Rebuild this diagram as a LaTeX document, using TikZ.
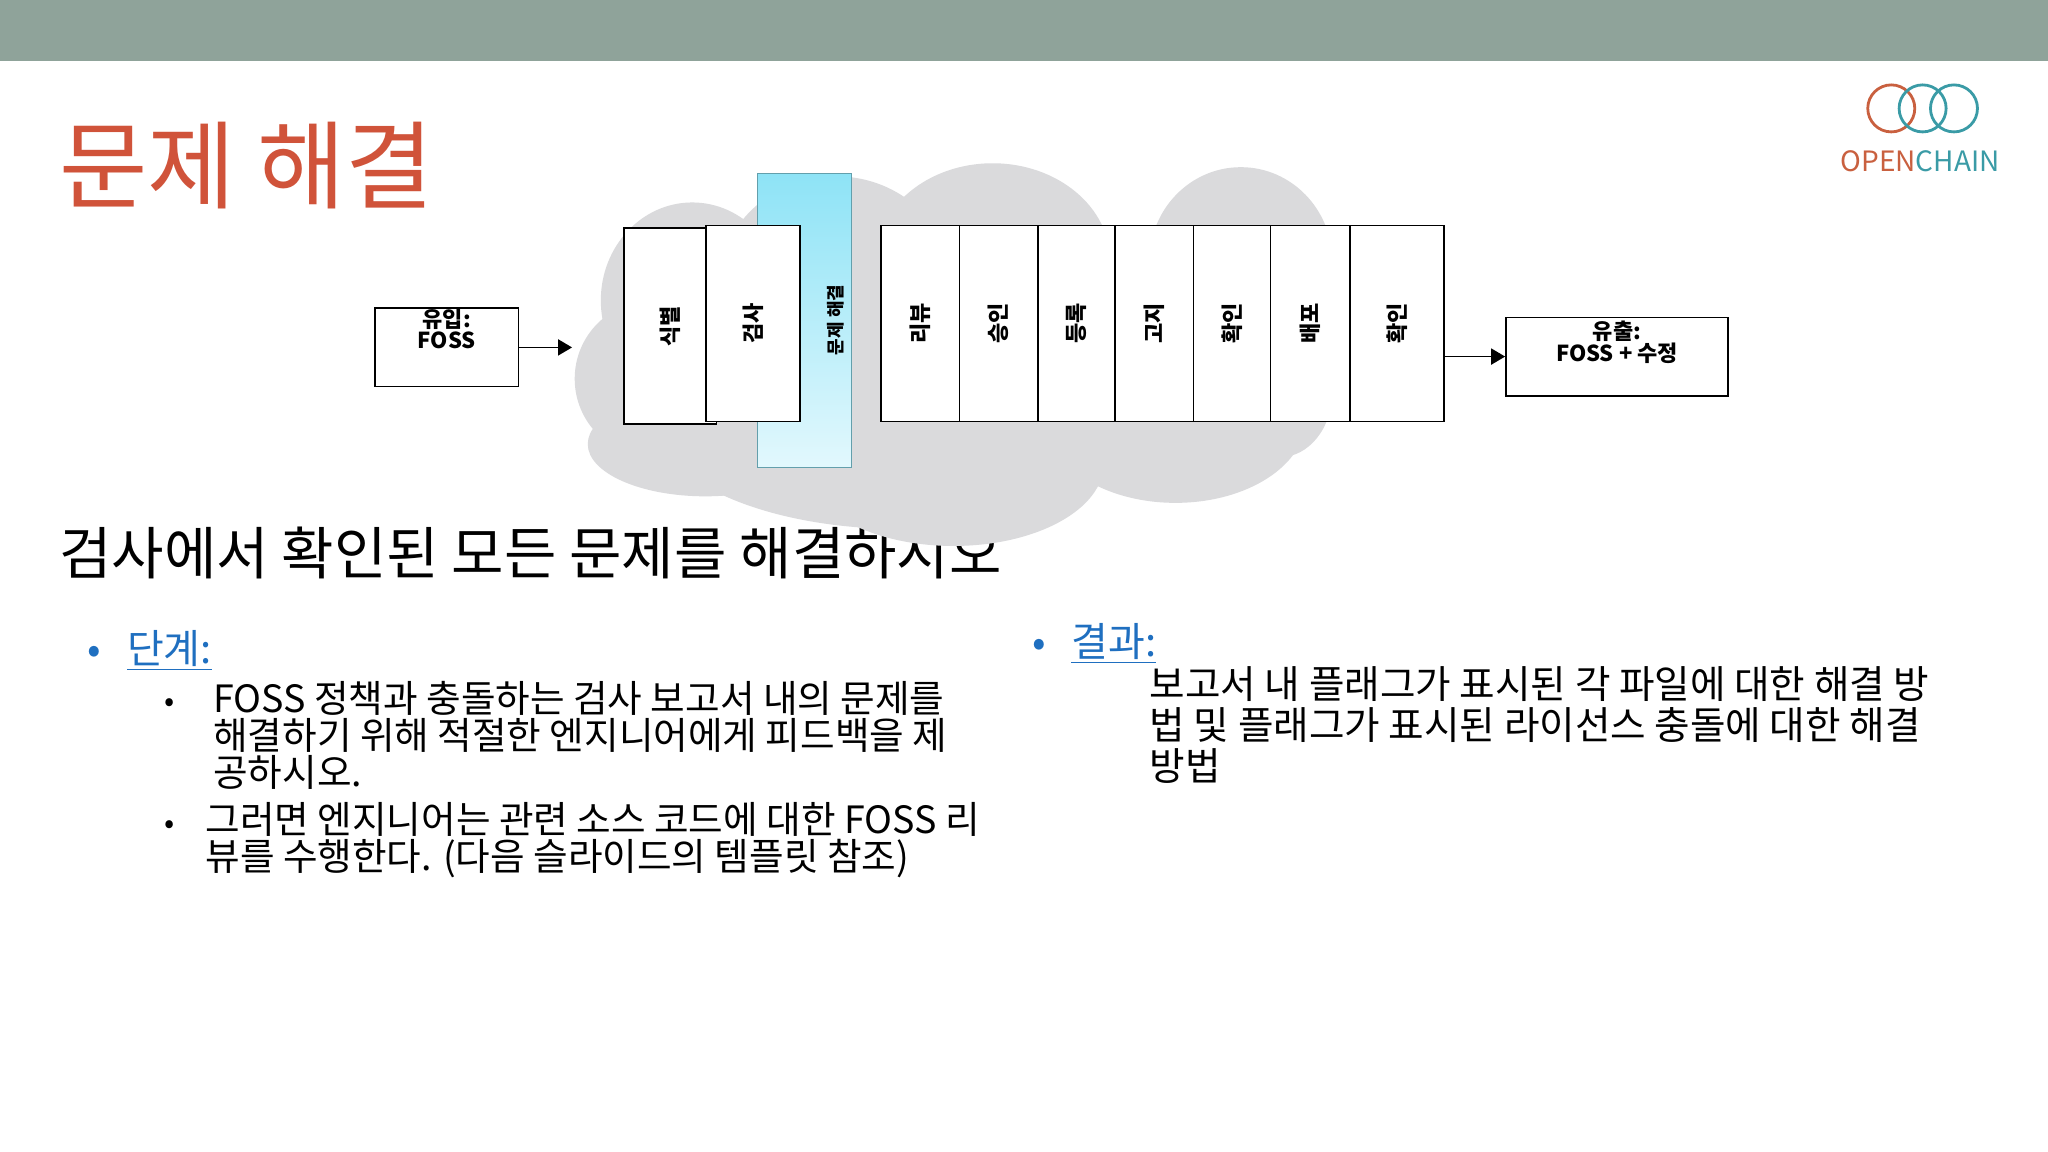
\documentclass[tikz,border=0pt]{standalone}
\usepackage{fontspec}
\usetikzlibrary{arrows.meta}
\setmainfont{Noto Sans CJK KR}
\definecolor{barc}{HTML}{8FA39A}
\definecolor{titc}{HTML}{D0533A}
\definecolor{cloudc}{HTML}{DADADC}
\definecolor{bluet}{HTML}{1F6FC0}
\definecolor{bluetop}{HTML}{8EE3F6}
\definecolor{bluebot}{HTML}{E2F8FD}
\definecolor{ocor}{HTML}{C9603F}
\definecolor{octe}{HTML}{3A9BA6}
\newcommand{\fs}[2]{\fontsize{#1}{#2}\selectfont}
\begin{document}
\begin{tikzpicture}[x=0.653pt,y=-0.653pt,
  stage/.style={draw=black,line width=0.8pt,fill=white,anchor=north west,inner sep=0pt},
  vlab/.style={rotate=90,font=\fs{11}{12}\bfseries},
  io/.style={draw=black,line width=0.8pt,fill=white,inner sep=0pt},
  arr/.style={-{Triangle[length=7pt,width=8pt]},line width=0.9pt},
  body/.style={anchor=north west,align=left,inner sep=0pt,font=\fs{18.8}{18.5}}]
\useasboundingbox (0,0) rectangle (1568,882);
\fill[white] (0,0) rectangle (1568,882);
\fill[barc] (0,0) rectangle (1568,47);
% title
\node[anchor=base west,inner sep=0pt,text=titc,font=\fs{48}{52}] (title) at (45,154) {문제 해결};
% subtitle
\node[anchor=base west,inner sep=0pt,font=\fs{28.5}{30}] (sub) at (45,440) {검사에서 확인된 모든 문제를 해결하시오};
% cloud
\fill[cloudc] (500,290) ellipse (60 and 60);
\fill[cloudc] (530,230) ellipse (70 and 75);
\fill[cloudc] (640,220) ellipse (90 and 85);
\fill[cloudc] (760,200) ellipse (90 and 75);
\fill[cloudc] (950,200) ellipse (70 and 72);
\fill[cloudc] (980,300) ellipse (40 and 50);
\fill[cloudc] (690,320) ellipse (190 and 85);
\fill[cloudc] (900,320) ellipse (100 and 65);
\fill[cloudc] (730,355) ellipse (115 and 63);
\fill[cloudc] (540,340) ellipse (90 and 40);
% input / output
\node[io,minimum width=110*0.653pt,minimum height=60*0.653pt] (in) at (342,266) {};
\node[font=\fs{11}{8}\bfseries,align=center] (inl) at (342,252) {유입:\\FOSS};
\coordinate (ina) at (438,266);
\draw[arr] (in.east) -- (ina);
% stages
\shade[top color=bluetop,bottom color=bluebot] (580,133) rectangle (652,358);
\draw[bluetop!70!black,line width=0.6pt] (580,133) rectangle (652,358);
\node[vlab,font=\fs{9}{10}\bfseries] (s3) at (640,245) {문제 해결};
\node[stage,minimum width=71*0.653pt,minimum height=150*0.653pt] (s1) at (477,174) {};
\node[vlab] at (s1.center) {식별};
\node[stage,minimum width=72*0.653pt,minimum height=150*0.653pt] (s2) at (540,172) {};
\node[vlab] at (s2.center) {검사};
\foreach \x/\w/\t [count=\i] in {674/60/리뷰,734/60/승인,794/59/등록,853/60/고지,913/59/확인,972/61/배포,1033/72/확인}{
  \node[stage,minimum width=\w*0.653pt,minimum height=150*0.653pt] (t\i) at (\x,172) {};
  \node[vlab] at (t\i.center) {\t};
}
\node[io,minimum width=170*0.653pt,minimum height=60*0.653pt] (out) at (1238,273) {};
\node[font=\fs{11}{8}\bfseries,align=center] (outl) at (1238,262) {유출:\\FOSS + 수정};
\draw[arr] (t7.east |- out.west) -- (out.west);
% bullets left
\node[anchor=base west,text=bluet,inner sep=0pt,font=\fs{20}{22}] (b1) at (67,508) {•};
\node[anchor=base west,text=bluet,inner sep=0pt,font=\fs{20}{22}] (b1t) at (97,508) {\underline{단계:}};
\node[anchor=base west,inner sep=0pt,font=\fs{15}{17}] (d1) at (126,545) {•};
\node[body] (t1) at (163,521) {FOSS 정책과 충돌하는 검사 보고서 내의 문제를\\해결하기 위해 적절한 엔지니어에게 피드백을 제\\공하시오.};
\node[anchor=base west,inner sep=0pt,font=\fs{15}{17}] (d2) at (126,638) {•};
\node[body] (t2) at (157,614) {그러면 엔지니어는 관련 소스 코드에 대한 FOSS 리\\뷰를 수행한다. (다음 슬라이드의 템플릿 참조)};
% right
\node[anchor=base west,text=bluet,inner sep=0pt,font=\fs{20}{22}] (b2) at (790,503) {•};
\node[anchor=base west,text=bluet,inner sep=0pt,font=\fs{20}{22}] (b2t) at (820,503) {\underline{결과:}};
\node[body,font=\fs{19.3}{20.5}] (t3) at (880,510) {보고서 내 플래그가 표시된 각 파일에 대한 해결 방\\법 및 플래그가 표시된 라이선스 충돌에 대한 해결\\방법};
% logo
\draw[ocor,line width=1.4pt] (1448,83) circle (18);
\draw[octe,line width=1.4pt] (1472,83) circle (18);
\draw[octe,line width=1.4pt] (1496,83) circle (18);
\node[anchor=base west,inner sep=0pt,font=\fs{14}{16}] (logo) at (1409,131) {\textcolor{ocor}{OPEN}\textcolor{octe}{CHAIN}};
\end{tikzpicture}
\end{document}
